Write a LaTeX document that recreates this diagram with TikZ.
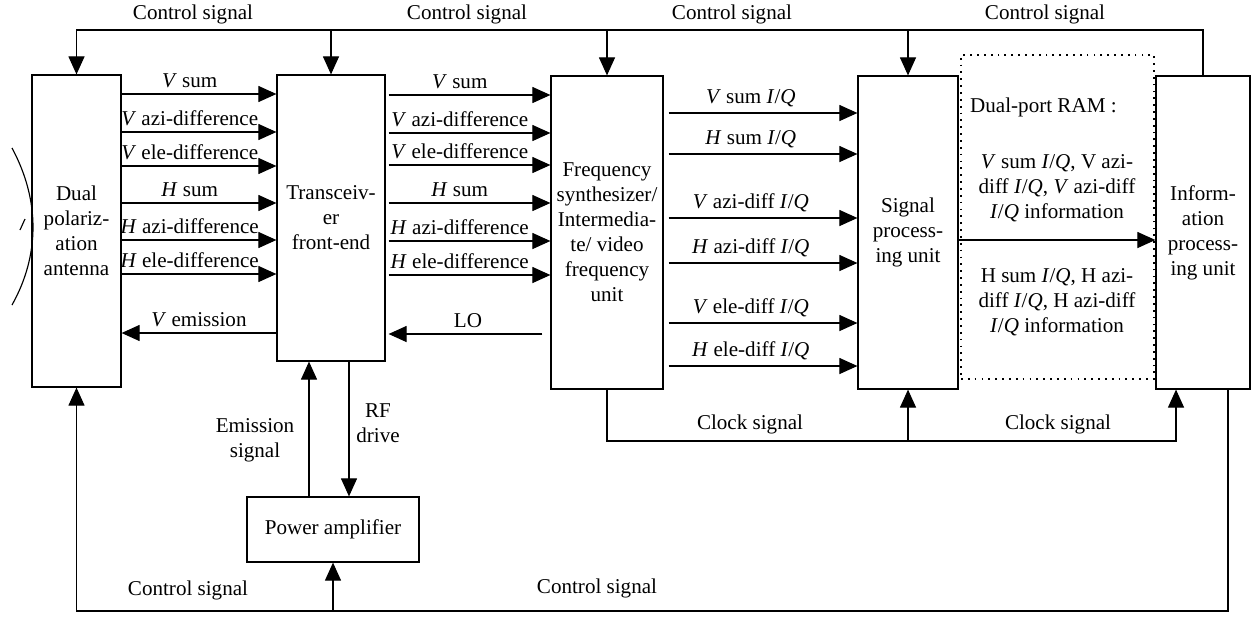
\documentclass[tikz,border=0pt]{standalone}
\usepackage{fontspec}
\setmainfont{Liberation Serif}
\usetikzlibrary{arrows.meta,positioning}

\newcommand{\iq}{\textit{I}/\textit{Q}}

\begin{document}
\begin{tikzpicture}[x=0.02cm,y=-0.02cm,>={Triangle[length=3.6mm,width=3.2mm]},
  font=\fontsize{12}{14.2}\selectfont,
  box/.style={draw, line width=0.7pt, align=center, inner sep=0pt},
  sig/.style={line width=0.65pt},
  lbl/.style={inner sep=3pt}]
  \useasboundingbox (0,0) rectangle (1253,616);

  % Blocks of the radar front end.
  \node[box, minimum width=1.78cm, minimum height=6.24cm] (ant) at (76.5,231)
    {Dual\\polariz-\\ation\\antenna};
  \node[box, minimum width=2.16cm, minimum height=5.72cm] (trx) at (331,218)
    {Transceiv-\\er\\front-end};
  \node[box, minimum width=2.24cm, minimum height=6.26cm] (fsu) at (607,232.5)
    {Frequency\\synthesizer/\\Intermedia-\\te/ video\\frequency\\unit};
  \node[box, minimum width=2cm, minimum height=6.26cm] (spu) at (908,232.5)
    {Signal\\process-\\ing unit};
  \node[box, minimum width=1.88cm, minimum height=6.26cm] (ipu) at (1203,232.5)
    {Inform-\\ation\\process-\\ing unit};
  \node[box, minimum width=3.44cm, minimum height=1.3cm] (pa) at (333,529.5)
    {Power amplifier};
  \node[draw, line width=1pt, dash pattern=on 1pt off 2.9pt,
    minimum width=3.86cm, minimum height=6.48cm] (ram) at (1057.5,217) {};

  % Dish outline beside the antenna.
  \draw[sig] (12,148) .. controls (40,200) and (40,255) .. (12,305);
  \draw[sig] (20,230) -- (25,219);

  % Control signal bus on top.
  \coordinate (ctop) at (0,30);
  \draw[sig,->] (ipu.north) |- (ant.north |- ctop) -- (ant.north);
  \draw[sig,->] (trx.north |- ctop) -- (trx.north);
  \draw[sig,->] (fsu.north |- ctop) -- (fsu.north);
  \draw[sig,->] (spu.north |- ctop) -- (spu.north);
  \node (cs1) at (193,14) {Control signal};
  \node (cs2) at (467,14) {Control signal};
  \node (cs3) at (732,14) {Control signal};
  \node (cs4) at (1045,14) {Control signal};

  % Antenna to transceiver.
  \draw[sig,->] (ant.east |- 0,94) -- (trx.west |- 0,94)
    node[lbl, above, pos=.44] {\textit{V} sum};
  \draw[sig,->] (ant.east |- 0,132) -- (trx.west |- 0,132)
    node[lbl, above, pos=.44] {\textit{V} azi-difference};
  \draw[sig,->] (ant.east |- 0,166) -- (trx.west |- 0,166)
    node[lbl, above, pos=.44] {\textit{V} ele-difference};
  \draw[sig,->] (ant.east |- 0,203) -- (trx.west |- 0,203)
    node[lbl, above, pos=.44] {\textit{H} sum};
  \draw[sig,->] (ant.east |- 0,240) -- (trx.west |- 0,240)
    node[lbl, above, pos=.44] {\textit{H} azi-difference};
  \draw[sig,->] (ant.east |- 0,274) -- (trx.west |- 0,274)
    node[lbl, above, pos=.44] {\textit{H} ele-difference};
  \draw[sig,->] (trx.west |- 0,333) -- (ant.east |- 0,333)
    node[lbl, above, midway] {\textit{V} emission};

  % Transceiver to frequency unit.
  \draw[sig,->,shorten <=1.7pt] (trx.east |- 0,95) -- (fsu.west |- 0,95)
    node[lbl, above, pos=.45] {\textit{V} sum};
  \draw[sig,->,shorten <=1.7pt] (trx.east |- 0,133) -- (fsu.west |- 0,133)
    node[lbl, above, pos=.45] {\textit{V} azi-difference};
  \draw[sig,->,shorten <=1.7pt] (trx.east |- 0,165) -- (fsu.west |- 0,165)
    node[lbl, above, pos=.45] {\textit{V} ele-difference};
  \draw[sig,->,shorten <=1.7pt] (trx.east |- 0,203) -- (fsu.west |- 0,203)
    node[lbl, above, pos=.45] {\textit{H} sum};
  \draw[sig,->,shorten <=1.7pt] (trx.east |- 0,241) -- (fsu.west |- 0,241)
    node[lbl, above, pos=.45] {\textit{H} azi-difference};
  \draw[sig,->,shorten <=1.7pt] (trx.east |- 0,275) -- (fsu.west |- 0,275)
    node[lbl, above, pos=.45] {\textit{H} ele-difference};
  \draw[sig,->,shorten <=4.5pt,shorten >=1.7pt] (fsu.west |- 0,334) -- (trx.east |- 0,334)
    node[lbl, above, midway] {LO};

  % Frequency unit to signal processing.
  \draw[sig,->,shorten <=2.8pt] (fsu.east |- 0,113) -- (spu.west |- 0,113)
    node[lbl, above, pos=.45] {\textit{V} sum \iq};
  \draw[sig,->,shorten <=2.8pt] (fsu.east |- 0,154) -- (spu.west |- 0,154)
    node[lbl, above, pos=.45] {\textit{H} sum \iq};
  \draw[sig,->,shorten <=2.8pt] (fsu.east |- 0,218) -- (spu.west |- 0,218)
    node[lbl, above, pos=.45] {\textit{V} azi-diff \iq};
  \draw[sig,->,shorten <=2.8pt] (fsu.east |- 0,263) -- (spu.west |- 0,263)
    node[lbl, above, pos=.45] {\textit{H} azi-diff \iq};
  \draw[sig,->,shorten <=2.8pt] (fsu.east |- 0,323) -- (spu.west |- 0,323)
    node[lbl, above, pos=.45] {\textit{V} ele-diff \iq};
  \draw[sig,->,shorten <=2.8pt] (fsu.east |- 0,366) -- (spu.west |- 0,366)
    node[lbl, above, pos=.45] {\textit{H} ele-diff \iq};

  % Dual-port RAM between the two processors.
  \draw[sig,->] (spu.east |- 0,240) -- (ipu.west |- 0,240);
  \node[anchor=west] (ramt) at (964,107) {Dual-port RAM :};
  \node[align=center] (ramv) at (1057,188)
    {\textit{V} sum \iq, V azi-\\diff \iq, \textit{V} azi-diff\\\iq{} information};
  \node[align=center] (ramh) at (1057,302)
    {H sum \iq, H azi-\\diff \iq, H azi-diff\\\iq{} information};

  % Power amplifier loop.
  \draw[sig,->] (pa.north -| 309,0) -- (trx.south -| 309,0);
  \draw[sig,->] (trx.south -| 349,0) -- (pa.north -| 349,0);
  \node[align=center] (emis) at (255,440) {Emission\\signal};
  \node[align=center] (rfd) at (378,423) {RF\\drive};

  % Clock distribution.
  \coordinate (clk) at (0,441);
  \draw[sig,->] (fsu.south) |- (clk -| 1176,0) -- (ipu.south -| 1176,0);
  \draw[sig,->] (spu.south |- clk) -- (spu.south);
  \node (ck1) at (750,424) {Clock signal};
  \node (ck2) at (1058,424) {Clock signal};

  % Control signal bus at the bottom.
  \coordinate (cbot) at (0,611);
  \draw[sig,->] (ipu.south -| 1228,0) |- (ant.south |- cbot) -- (ant.south);
  \draw[sig,->] (pa.south |- cbot) -- (pa.south);
  \node (cs5) at (188,590) {Control signal};
  \node (cs6) at (597,588) {Control signal};
\end{tikzpicture}
\end{document}
